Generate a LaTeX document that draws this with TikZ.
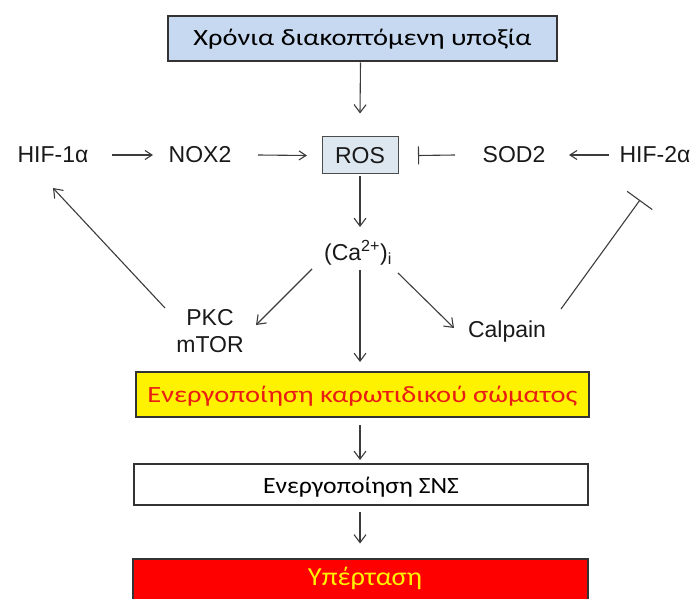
\documentclass[tikz,border=0pt]{standalone}
\usepackage{fontspec}
\usepackage{graphicx}
\setmainfont{Liberation Sans}
\newfontfamily\calfont{Carlito}
\usetikzlibrary{arrows.meta}
\definecolor{topblue}{RGB}{198,217,241}
\definecolor{rosblue}{RGB}{221,231,240}
\definecolor{lc}{RGB}{60,60,60}
\definecolor{txtred}{RGB}{232,30,20}
\begin{document}
\begin{tikzpicture}[x=1pt,y=-1pt,
  lbl/.style={font=\fontsize{23}{27}\selectfont, inner sep=0pt, text=black!90, align=center},
  gbox/.style={draw=black!80, line width=1.3pt, inner sep=0pt},
  arr/.style={draw=lc, line width=1.1pt, -{Straight Barb[length=8pt,width=12pt]}},
  sarr/.style={draw=lc, line width=1.1pt, -{Straight Barb[length=7pt,width=9pt]}},
  inh/.style={draw=lc, line width=1.1pt, -{Bar[width=#1]}}]
\useasboundingbox (0,0) rectangle (694,599);
% boxes
\node[gbox, fill=topblue, minimum width=389pt, minimum height=45pt, text height=20pt, text depth=5pt] (top) at (362.5,38.5)
  {\resizebox{338pt}{\height}{\fontsize{23.3}{28}\calfont Χρόνια διακοπτόμενη υποξία}\hspace{7pt}};
\node[gbox, fill=yellow, minimum width=453pt, minimum height=45pt, text height=20pt, text depth=5pt] (cb) at (362.5,394.5)
  {\resizebox{430pt}{\height}{\fontsize{23.3}{28}\calfont\color{txtred}Ενεργοποίηση καρωτιδικού σώματος}\hspace{5pt}};
\node[gbox, fill=white, minimum width=454pt, minimum height=41pt, text height=21pt, text depth=4pt] (sns) at (361,484.5)
  {\resizebox{196pt}{\height}{\fontsize{23.3}{28}\calfont Ενεργοποίηση ΣΝΣ}};
\node[gbox, fill=red, minimum width=455pt, minimum height=45pt, text height=17pt, text depth=10pt] (hyp) at (360.5,581.5)
  {\hspace{9pt}\resizebox{114pt}{\height}{\fontsize{26}{30}\calfont\color{yellow}Υπέρταση}};
% labels
\node[lbl] (hif1) at (53,155) {HIF-1α};
\node[lbl] (nox) at (200,155) {NOX2};
\node[lbl, draw=black!70, fill=rosblue, line width=1pt, minimum width=76pt, minimum height=37pt] (ros) at (360,155.5) {ROS};
\node[lbl] (sod) at (514,155) {SOD2};
\node[lbl] (hif2) at (655,155) {HIF-2α};
\node[lbl] (ca) at (358,253) {(Ca\textsuperscript{2+})\textsubscript{i}};
\node[lbl] (pkc) at (210,331) {PKC\\mTOR};
\node[lbl] (calp) at (507,332) {Calpain};
% connectors
\draw[arr] ([shift={(-2,24)}]top.center) -- ([shift={(0,-42)}]ros.center);
\draw[sarr] ([shift={(59,0)}]hif1.center) -- ([shift={(-47,0)}]nox.center);
\draw[sarr] ([shift={(58,0)}]nox.center) -- ([shift={(-53,0)}]ros.center);
\draw[inh=18pt] ([shift={(-59,0)}]sod.center) -- ([shift={(58,0)}]ros.center);
\draw[sarr] ([shift={(-46,0)}]hif2.center) -- ([shift={(55,0)}]sod.center);
\draw[arr] ([shift={(0,21)}]ros.center) -- ([shift={(2,-26)}]ca.center);
\draw[arr] ([shift={(-46,16)}]ca.center) -- ([shift={(46,-6)}]pkc.center);
\draw[arr] ([shift={(2,17)}]ca.center) -- ([shift={(-2.5,-32.5)}]cb.center);
\draw[arr] ([shift={(40,20)}]ca.center) -- ([shift={(-53,-4)}]calp.center);
\draw[arr] ([shift={(-45,-23)}]pkc.center) -- ([shift={(0,33)}]hif1.center);
\draw[inh=31pt] ([shift={(54,-23)}]calp.center) -- ([shift={(-15,45)}]hif2.center);
\draw[arr] ([shift={(-2.5,30.5)}]cb.center) -- ([shift={(-1,-24.5)}]sns.center);
\draw[arr] ([shift={(-1,27.5)}]sns.center) -- ([shift={(-0.5,-38)}]hyp.center);
\end{tikzpicture}
\end{document}
